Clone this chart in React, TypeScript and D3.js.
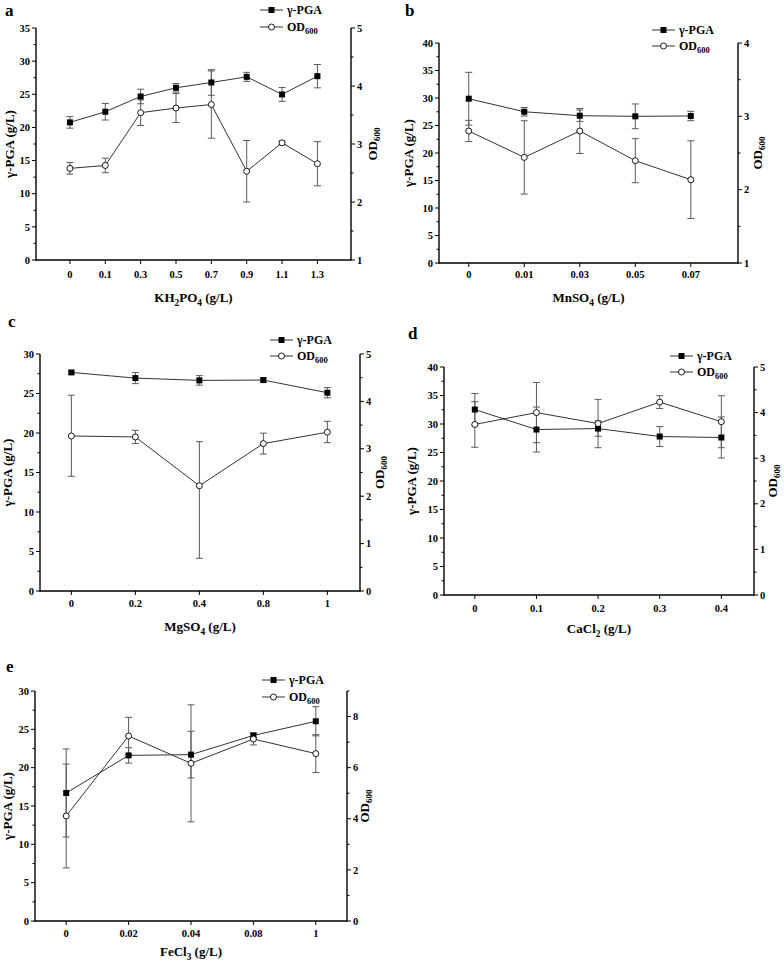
import React from "react";
import * as d3 from "d3";

// ---------- Data ----------
const aCats = ["0", "0.1", "0.3", "0.5", "0.7", "0.9", "1.1", "1.3"];
const aPga = [20.76, 22.37, 24.67, 25.98, 26.78, 27.63, 24.98, 27.73];
const aPgaErr = [0.87, 1.25, 1.1, 0.65, 1.93, 0.68, 1.05, 1.76];
const aOd = [2.58, 2.63, 3.54, 3.62, 3.68, 2.53, 3.02, 2.66];
const aOdErrUp = [0.1, 0.125, 0.22, 0.25, 0.58, 0.53, 0.03, 0.38];
const aOdErrDown = [0.1, 0.125, 0.22, 0.25, 0.58, 0.53, 0.03, 0.38];

const bCats = ["0", "0.01", "0.03", "0.05", "0.07"];
const bPga = [29.87, 27.5, 26.78, 26.67, 26.73];
const bPgaErr = [4.8, 0.78, 1.03, 2.25, 0.85];
const bOd = [2.8, 2.44, 2.8, 2.395, 2.136];
const bOdErrUp = [0.145, 0.5, 0.307, 0.3, 0.53];
const bOdErrDown = [0.145, 0.5, 0.307, 0.3, 0.53];

const cCats = ["0", "0.2", "0.4", "0.8", "1"];
const cPga = [27.67, 26.95, 26.66, 26.7, 25.1];
const cPgaErr = [0.2, 0.7, 0.6, 0.25, 0.65];
const cOd = [3.27, 3.25, 2.22, 3.11, 3.35];
const cOdErrUp = [0.86, 0.14, 0.93, 0.22, 0.23];
const cOdErrDown = [0.85, 0.14, 1.53, 0.22, 0.22];

const dCats = ["0", "0.1", "0.2", "0.3", "0.4"];
const dPga = [32.54, 29.03, 29.2, 27.8, 27.63];
const dPgaErr = [2.8, 3.94, 1.35, 1.75, 3.6];
const dOd = [3.74, 4.0, 3.76, 4.23, 3.8];
const dOdErrUp = [0.5, 0.66, 0.53, 0.14, 0.57];
const dOdErrDown = [0.5, 0.66, 0.53, 0.14, 0.57];

const eCats = ["0", "0.02", "0.04", "0.08", "1"];
const ePga = [16.7, 21.6, 21.7, 24.2, 26.05];
const ePgaErr = [5.74, 1.0, 3.04, 0.3, 1.9];
const eOd = [4.11, 7.24, 6.17, 7.12, 6.55];
const eOdErrUp = [2.03, 0.73, 2.29, 0.23, 0.74];
const eOdErrDown = [2.03, 0.73, 2.29, 0.23, 0.74];

const aOdTicks = [1, 2, 3, 4, 5];
const bOdTicks = [1, 2, 3, 4];
const cOdTicks = [0, 1, 2, 3, 4, 5];
const dOdTicks = [0, 1, 2, 3, 4, 5];
const eOdTicks = [0, 2, 4, 6, 8];

type Seg = [string, boolean];

const panels = [
  {
    letter: "a", letterX: 5, letterY: 16,
    cats: aCats, pga: aPga, pgaErr: aPgaErr, od: aOd, odUp: aOdErrUp, odDown: aOdErrDown,
    left: 36, right: 351, top: 28, bottom: 260, xDomain: [-0.96, 7.95],
    yMax: 35, odMin: 1, odMax: 5, odTicks: aOdTicks, odMinor: 0.5,
    legX: 260, legY1: 10, legY2: 27, tickY: 278, titleY: 302,
    yLabX: 14, rLabX: 377,
    title: [["KH", false], ["2", true], ["PO", false], ["4", true], [" (g/L)", false]] as Seg[],
  },
  {
    letter: "b", letterX: 405, letterY: 16,
    cats: bCats, pga: bPga, pgaErr: bPgaErr, od: bOd, odUp: bOdErrUp, odDown: bOdErrDown,
    left: 439, right: 738, top: 43, bottom: 263, xDomain: [-0.536, 4.85],
    yMax: 40, odMin: 1, odMax: 4, odTicks: bOdTicks, odMinor: 0.5,
    legX: 652, legY1: 30, legY2: 46, tickY: 278, titleY: 302,
    yLabX: 413, rLabX: 762,
    title: [["MnSO", false], ["4", true], [" (g/L)", false]] as Seg[],
  },
  {
    letter: "c", letterX: 8, letterY: 327,
    cats: cCats, pga: cPga, pgaErr: cPgaErr, od: cOd, odUp: cOdErrUp, odDown: cOdErrDown,
    left: 40, right: 360, top: 354, bottom: 591, xDomain: [-0.49, 4.51],
    yMax: 30, odMin: 0, odMax: 5, odTicks: cOdTicks, odMinor: 0.5,
    legX: 270, legY1: 340, legY2: 356, tickY: 607, titleY: 631,
    yLabX: 12, rLabX: 384,
    title: [["MgSO", false], ["4", true], [" (g/L)", false]] as Seg[],
  },
  {
    letter: "d", letterX: 408, letterY: 339,
    cats: dCats, pga: dPga, pgaErr: dPgaErr, od: dOd, odUp: dOdErrUp, odDown: dOdErrDown,
    left: 444, right: 754, top: 367, bottom: 595, xDomain: [-0.5, 4.53],
    yMax: 40, odMin: 0, odMax: 5, odTicks: dOdTicks, odMinor: 0.5,
    legX: 670, legY1: 356, legY2: 372, tickY: 612, titleY: 633,
    yLabX: 416, rLabX: 777,
    title: [["CaCl", false], ["2", true], [" (g/L)", false]] as Seg[],
  },
  {
    letter: "e", letterX: 6, letterY: 672,
    cats: eCats, pga: ePga, pgaErr: ePgaErr, od: eOd, odUp: eOdErrUp, odDown: eOdErrDown,
    left: 35, right: 347, top: 691, bottom: 921, xDomain: [-0.5, 4.5],
    yMax: 30, odMin: 0, odMax: 9, odTicks: eOdTicks, odMinor: 1,
    legX: 262, legY1: 680, legY2: 697, tickY: 937, titleY: 956,
    yLabX: 12, rLabX: 369,
    title: [["FeCl", false], ["3", true], [" (g/L)", false]] as Seg[],
  },
];

const FONT = "'Liberation Serif', 'Times New Roman', serif";
const ERR = "#5a5a5a";
const LINE = "#333";

function SegText({ segs, size }: { segs: Seg[]; size: number }) {
  let shifted = false;
  return (
    <>
      {segs.map(([t, sub], i) => {
        let dy = 0;
        if (sub && !shifted) { dy = size * 0.3; shifted = true; }
        else if (!sub && shifted) { dy = -size * 0.3; shifted = false; }
        return (
          <tspan key={i} dy={dy} fill="#000" fontSize={sub ? size * 0.72 : size}>{t}</tspan>
        );
      })}
    </>
  );
}

function Panel({ p }: { p: (typeof panels)[number] }) {
  const x = d3.scaleLinear().domain(p.xDomain).range([p.left, p.right]);
  const y = d3.scaleLinear().domain([0, p.yMax]).range([p.bottom, p.top]);
  const y2 = d3.scaleLinear().domain([p.odMin, p.odMax]).range([p.bottom, p.top]);
  const idx = p.cats.map((_, i) => i);
  const pgaLine = d3.line<number>().x((i) => x(i)).y((i) => y(p.pga[i]))(idx) || "";
  const odLine = d3.line<number>().x((i) => x(i)).y((i) => y2(p.od[i]))(idx) || "";

  const leftMajor = d3.range(0, p.yMax + 0.001, 5);
  const leftMinor = d3.range(2.5, p.yMax, 5);
  const rightMinor = d3
    .range(p.odMin, p.odMax + 0.001, p.odMinor)
    .filter((v) => !p.odTicks.some((t) => Math.abs(t - v) < 1e-6));
  const cy = (p.top + p.bottom) / 2;
  const cap = 3.5;

  const errBar = (xx: number, yTop: number, yBot: number, key: string) => (
    <g key={key} stroke={ERR} strokeWidth={1}>
      <line x1={xx} x2={xx} y1={yTop} y2={yBot} />
      <line x1={xx - cap} x2={xx + cap} y1={yTop} y2={yTop} />
      <line x1={xx - cap} x2={xx + cap} y1={yBot} y2={yBot} />
    </g>
  );

  return (
    <g fontFamily={FONT} fontWeight="bold" fill="#000">
      <text x={p.letterX} y={p.letterY} fontSize={17}>{p.letter}</text>

      {/* axes */}
      <g stroke="#000" strokeWidth={1.4} fill="none">
        <line x1={p.left} x2={p.left} y1={p.top} y2={p.bottom + 0.7} />
        <line x1={p.right} x2={p.right} y1={p.top} y2={p.bottom + 0.7} />
        <line x1={p.left} x2={p.right} y1={p.bottom} y2={p.bottom} />
      </g>
      <g stroke="#000" strokeWidth={1}>
        {leftMajor.map((v) => (
          <line key={"lm" + v} x1={p.left - 4} x2={p.left} y1={y(v)} y2={y(v)} />
        ))}
        {leftMinor.map((v) => (
          <line key={"ln" + v} x1={p.left - 2.5} x2={p.left} y1={y(v)} y2={y(v)} />
        ))}
        {p.odTicks.map((v) => (
          <line key={"rm" + v} x1={p.right} x2={p.right + 4} y1={y2(v)} y2={y2(v)} />
        ))}
        {rightMinor.map((v) => (
          <line key={"rn" + v} x1={p.right} x2={p.right + 2.5} y1={y2(v)} y2={y2(v)} />
        ))}
        {idx.map((i) => (
          <line key={"xt" + i} x1={x(i)} x2={x(i)} y1={p.bottom} y2={p.bottom + 4} />
        ))}
      </g>
      <g fontSize={10.5}>
        {leftMajor.map((v) => (
          <text key={"ll" + v} x={p.left - 6} y={y(v)} dy="0.35em" textAnchor="end">{v}</text>
        ))}
        {p.odTicks.map((v) => (
          <text key={"rl" + v} x={p.right + 6} y={y2(v)} dy="0.35em" textAnchor="start">{v}</text>
        ))}
        {p.cats.map((c, i) => (
          <text key={"xl" + i} x={x(i)} y={p.tickY} textAnchor="middle">{c}</text>
        ))}
      </g>

      {/* axis titles */}
      <text x={(p.left + p.right) / 2} y={p.titleY} textAnchor="middle" fontSize={13}>
        <SegText segs={p.title} size={13} />
      </text>
      <text transform={`translate(${p.yLabX},${cy}) rotate(-90)`} textAnchor="middle" fontSize={13}>
        γ-PGA (g/L)
      </text>
      <text transform={`translate(${p.rLabX},${cy}) rotate(-90)`} textAnchor="middle" fontSize={13}>
        <tspan fill="#000">OD</tspan>
        <tspan fill="#000" fontSize={9} dy={3}>600</tspan>
      </text>

      {/* error bars */}
      {idx.map((i) => errBar(x(i), y(p.pga[i] + p.pgaErr[i]), y(p.pga[i] - p.pgaErr[i]), "pe" + i))}
      {idx.map((i) => errBar(x(i), y2(p.od[i] + p.odUp[i]), y2(p.od[i] - p.odDown[i]), "oe" + i))}

      {/* lines */}
      <path d={pgaLine} fill="none" stroke={LINE} strokeWidth={1} />
      <path d={odLine} fill="none" stroke={LINE} strokeWidth={1} />

      {/* markers */}
      {idx.map((i) => (
        <rect key={"sq" + i} x={x(i) - 3} y={y(p.pga[i]) - 3} width={6} height={6} fill="#000" />
      ))}
      {idx.map((i) => (
        <circle key={"ci" + i} cx={x(i)} cy={y2(p.od[i])} r={3} fill="#fff" stroke="#000" strokeWidth={0.9} />
      ))}

      {/* legend */}
      <g>
        <line x1={p.legX} x2={p.legX + 23} y1={p.legY1} y2={p.legY1} stroke={LINE} strokeWidth={1} />
        <rect x={p.legX + 8.5} y={p.legY1 - 3} width={6} height={6} fill="#000" />
        <text x={p.legX + 27} y={p.legY1} dy="0.35em" fontSize={12}>γ-PGA</text>
        <line x1={p.legX} x2={p.legX + 23} y1={p.legY2} y2={p.legY2} stroke={LINE} strokeWidth={1} />
        <circle cx={p.legX + 11.5} cy={p.legY2} r={3} fill="#fff" stroke="#000" strokeWidth={0.9} />
        <text x={p.legX + 27} y={p.legY2} dy="0.35em" fontSize={12}>
          <tspan fill="#000">OD</tspan>
          <tspan fill="#000" fontSize={8.5} dy={3}>600</tspan>
        </text>
      </g>
    </g>
  );
}

export default function App() {
  return (
    <svg
      width={784}
      height={962}
      viewBox="0 0 784 962"
      style={{ position: "absolute", left: 0, top: 0, background: "#fff" }}
    >
      <rect x={0} y={0} width={784} height={962} fill="#fff" />
      {panels.map((p) => (
        <Panel key={p.letter} p={p} />
      ))}
    </svg>
  );
}
